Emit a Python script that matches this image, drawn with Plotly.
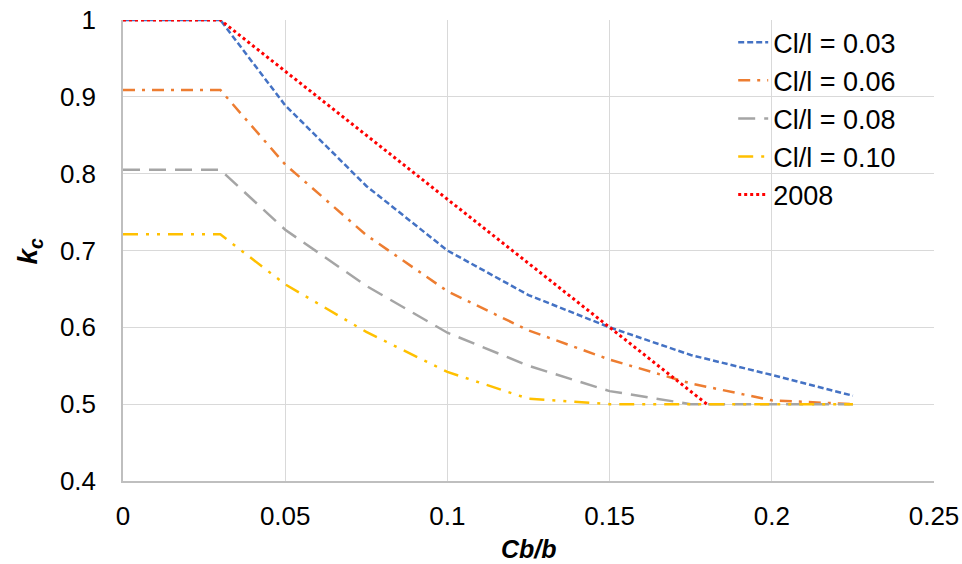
import plotly.graph_objects as go

cb_b = [0, 0.03, 0.05, 0.075, 0.1, 0.125, 0.15, 0.175, 0.2, 0.225]
kc_003 = [1.0, 1.0, 0.889, 0.784, 0.700, 0.642, 0.600, 0.564, 0.538, 0.511]
kc_006 = [0.909, 0.909, 0.812, 0.720, 0.647, 0.596, 0.558, 0.527, 0.505, 0.500]
kc_008 = [0.805, 0.805, 0.727, 0.654, 0.593, 0.550, 0.517, 0.500, 0.500, 0.500]
kc_010 = [0.721, 0.721, 0.656, 0.594, 0.542, 0.507, 0.500, 0.500, 0.500, 0.500]
cb_b_2008 = [0, 0.03, 0.18]
kc_2008 = [1.0, 1.0, 0.5]

names = ["Cl/l = 0.03", "Cl/l = 0.06", "Cl/l = 0.08", "Cl/l = 0.10", "2008"]
colors = ["#4472C4", "#ED7D31", "#A5A5A5", "#FFC000", "#FF0000"]
dashes = ["6px,3px", "12px,7px,3px,7px", "17px,9px", "15px,8px,3px,8px,3px,8px", "dot"]
widths = [2.5, 2.5, 2.5, 2.5, 3]

fig = go.Figure()
series = [(cb_b, kc_003), (cb_b, kc_006), (cb_b, kc_008), (cb_b, kc_010), (cb_b_2008, kc_2008)]
for (xs, ys), n, c, d, w in zip(series, names, colors, dashes, widths):
    fig.add_trace(go.Scatter(x=xs, y=ys, mode="lines", name=n,
                             line=dict(color=c, dash=d, width=w)))

font = "Liberation Sans, Arial, sans-serif"
fig.update_layout(
    width=962, height=564,
    margin=dict(l=123, r=28, t=20, b=83),
    plot_bgcolor="white", paper_bgcolor="white",
    font=dict(family=font, size=26, color="black"),
    showlegend=True,
    legend=dict(x=0.7524, y=1.004, xanchor="left", yanchor="top",
                bgcolor="rgba(0,0,0,0)", font=dict(size=27),
                tracegroupgap=0),
    xaxis=dict(range=[0, 0.25], tickvals=[0, 0.05, 0.1, 0.15, 0.2, 0.25],
               ticktext=["0", "0.05", "0.1", "0.15", "0.2", "0.25"],
               showgrid=True, gridcolor="#D9D9D9", gridwidth=1,
               showline=True, linecolor="#BFBFBF", linewidth=1.5,
               zeroline=False, ticks="outside", ticklen=0, ticklabelstandoff=11,
               ticklabeloverflow="allow", automargin=False),
    yaxis=dict(range=[0.4, 1.0], tickvals=[0.4, 0.5, 0.6, 0.7, 0.8, 0.9, 1.0],
               ticktext=["0.4", "0.5", "0.6", "0.7", "0.8", "0.9", "1"],
               showgrid=True, gridcolor="#D9D9D9", gridwidth=1,
               showline=True, linecolor="#BFBFBF", linewidth=1.5,
               zeroline=False, ticks="outside", ticklen=0, ticklabelstandoff=20,
               ticklabeloverflow="allow", automargin=False),
    annotations=[
        dict(text="<b><i>Cb/b</i></b>", xref="paper", yref="paper",
             x=0.5, y=-0.147, xanchor="center", yanchor="middle",
             showarrow=False, font=dict(size=25)),
        dict(text="<b><i>k<sub>c</sub></i></b>", xref="paper", yref="paper",
             x=-0.1147, y=0.5, xanchor="center", yanchor="middle",
             textangle=-90, showarrow=False, font=dict(size=28)),
    ],
)

fig.write_html("out.html", config={"displayModeBar": False},
               post_script="document.body.style.margin='0';document.body.style.overflow='hidden';")
